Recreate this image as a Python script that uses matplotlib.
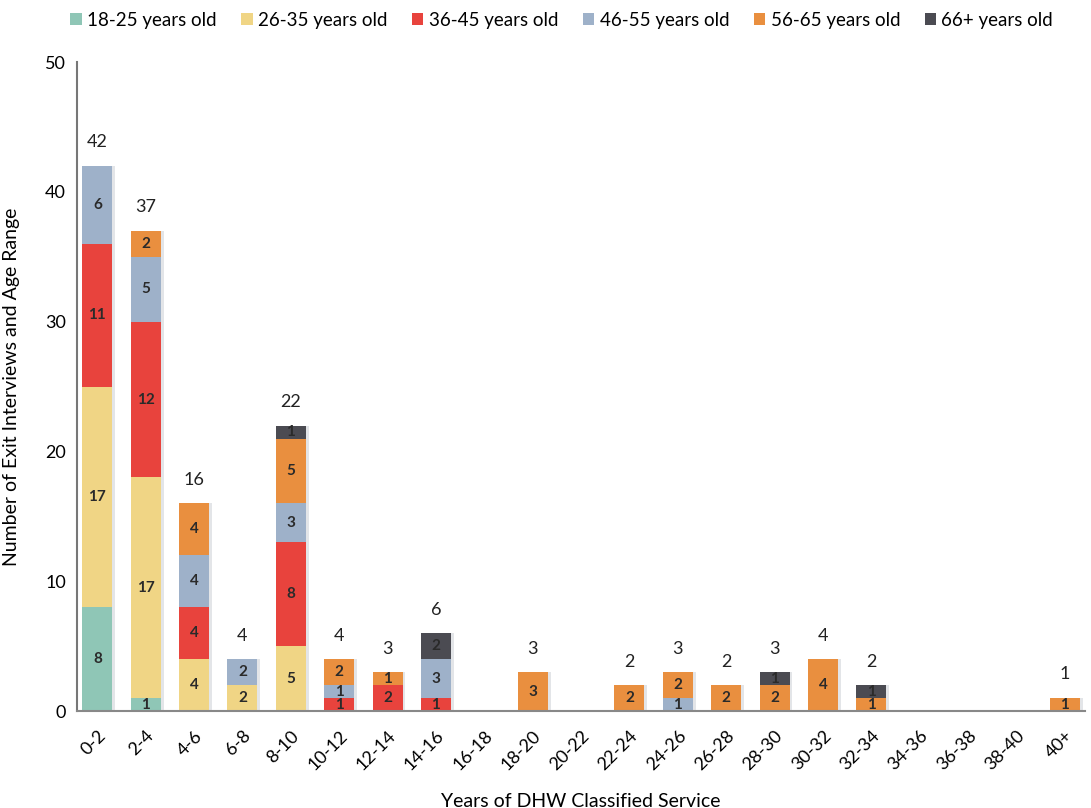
import numpy as np
from matplotlib import pyplot as plt

plt.rcParams['font.family'] = ['Lato', 'DejaVu Sans']

categories = ["0-2", "2-4", "4-6", "6-8", "8-10", "10-12", "12-14", "14-16", "16-18",
              "18-20", "20-22", "22-24", "24-26", "26-28", "28-30", "30-32", "32-34",
              "34-36", "36-38", "38-40", "40+"]
age_groups = ["18-25 years old", "26-35 years old", "36-45 years old",
              "46-55 years old", "56-65 years old", "66+ years old"]

age_18_25 = [8, 1, 0, 0, 0, 0, 0, 0, 0, 0, 0, 0, 0, 0, 0, 0, 0, 0, 0, 0, 0]
age_26_35 = [17, 17, 4, 2, 5, 0, 0, 0, 0, 0, 0, 0, 0, 0, 0, 0, 0, 0, 0, 0, 0]
age_36_45 = [11, 12, 4, 0, 8, 1, 2, 1, 0, 0, 0, 0, 0, 0, 0, 0, 0, 0, 0, 0, 0]
age_46_55 = [6, 5, 4, 2, 3, 1, 0, 3, 0, 0, 0, 0, 1, 0, 0, 0, 0, 0, 0, 0, 0]
age_56_65 = [0, 2, 4, 0, 5, 2, 1, 0, 0, 3, 0, 2, 2, 2, 2, 4, 1, 0, 0, 0, 1]
age_66_up = [0, 0, 0, 0, 1, 0, 0, 2, 0, 0, 0, 0, 0, 0, 1, 0, 1, 0, 0, 0, 0]

colors = ["#8fc6b6", "#f0d585", "#e8433d", "#9eb1c9", "#e98f3f", "#4b4b52"]

series = [age_18_25, age_26_35, age_36_45, age_46_55, age_56_65, age_66_up]
x = np.arange(len(categories))
width = 0.62

fig = plt.figure(figsize=(10.91, 8.08), dpi=100)
ax = fig.add_axes([0.0706, 0.12, 0.924, 0.803])

bottom = np.zeros(len(categories))
for vals, col, name in zip(series, colors, age_groups):
    vals = np.array(vals, dtype=float)
    # soft shadow on the right of each block
    ax.bar(x + 0.06, vals, width, bottom=bottom, color="#c9ccd2", alpha=0.5,
           zorder=1, linewidth=0)
    ax.bar(x, vals, width, bottom=bottom, color=col, label=name, zorder=2,
           linewidth=0)
    for i, v in enumerate(vals):
        if v > 0:
            ax.text(x[i], bottom[i] + v / 2, f"{int(v)}", ha="center", va="center",
                    fontsize=11, fontweight="bold", color="#2a2a2a", zorder=3)
    bottom += vals

for i, tot in enumerate(bottom):
    if tot > 0:
        ax.text(x[i], tot + 1.2, f"{int(tot)}", ha="center", va="bottom",
                fontsize=13, color="#222222")

ax.set_xlim(-0.42, len(categories) - 0.58)
ax.set_ylim(0, 50)
ax.set_yticks(range(0, 51, 10))
ax.set_xticks(x)
ax.set_xticklabels(categories, rotation=45, ha="right", rotation_mode="anchor",
                   fontsize=13)
ax.tick_params(axis="y", labelsize=13, length=0, pad=8)
ax.tick_params(axis="x", length=0, pad=12)
for s in ["top", "right"]:
    ax.spines[s].set_visible(False)
ax.spines["left"].set_color("#777777")
ax.spines["bottom"].set_color("#888888")
ax.spines["left"].set_linewidth(1.5)
ax.spines["bottom"].set_linewidth(1.5)

ax.set_xlabel("Years of DHW Classified Service", fontsize=14, labelpad=14)
ax.set_ylabel("Number of Exit Interviews and Age Range", fontsize=14, labelpad=18)

fig.legend(loc="upper center", bbox_to_anchor=(0.515, 1.006), ncol=6, frameon=False,
           fontsize=13.5, handlelength=0.6, handleheight=0.6, handletextpad=0.3,
           columnspacing=1.3)

fig.savefig("out.png", dpi=100)
